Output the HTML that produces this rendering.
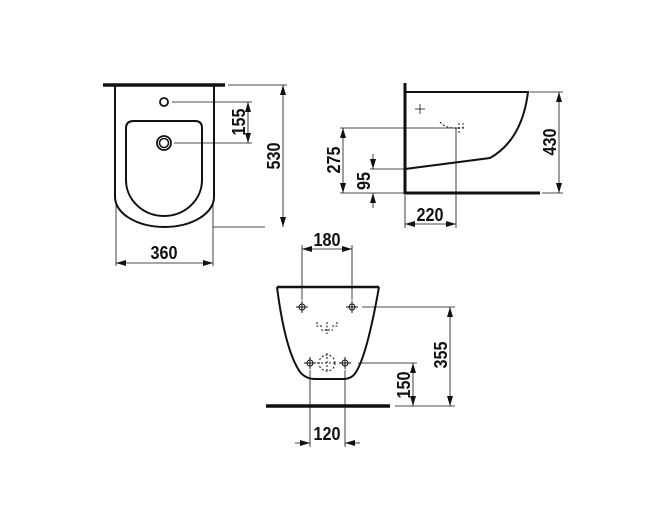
<!DOCTYPE html>
<html><head><style>html,body{margin:0;padding:0;background:#fff}svg{display:block}
text{font-family:"Liberation Sans",sans-serif;font-weight:bold;font-size:18px;fill:#111}</style></head>
<body>
<svg width="662" height="528" viewBox="0 0 662 528" xmlns="http://www.w3.org/2000/svg">
<defs>
<marker id="a" viewBox="0 0 10 6" refX="10" refY="3" markerWidth="10" markerHeight="6" orient="auto-start-reverse" markerUnits="userSpaceOnUse"><path d="M0,0 L10,3 L0,6z" fill="#111"/></marker>
</defs>
<g fill="none" stroke="#111">
<!-- top view -->
<line x1="103" y1="85" x2="225" y2="85" stroke-width="3.5"/>
<path d="M115,86 V197 A49.5,30 0 0 0 214,197 V86" stroke-width="2"/>
<path d="M126,128 Q126,121 134,121 H195 Q202,121 202,128 V180 A38,36 0 0 1 126,180 Z" stroke-width="2"/>
<circle cx="164" cy="102" r="4" stroke-width="1.8"/>
<circle cx="164" cy="143" r="7" stroke-width="1.8"/>
<circle cx="164" cy="143" r="4.5" stroke-width="1.5"/>
<g stroke-width="0.8">
<line x1="172" y1="102" x2="252" y2="102"/><line x1="174" y1="143" x2="252" y2="143"/>
<line x1="248" y1="102" x2="248" y2="143" marker-start="url(#a)" marker-end="url(#a)"/>
<line x1="228" y1="85" x2="287" y2="85"/><line x1="213" y1="227" x2="265" y2="227"/>
<line x1="283" y1="85" x2="283" y2="227" marker-start="url(#a)" marker-end="url(#a)"/>
<line x1="116" y1="200" x2="116" y2="266"/><line x1="213" y1="200" x2="213" y2="266"/>
<line x1="116" y1="263" x2="213" y2="263" marker-start="url(#a)" marker-end="url(#a)"/>
</g>
<!-- side view -->
<line x1="405" y1="83" x2="405" y2="194" stroke-width="3"/>
<line x1="404" y1="193" x2="540" y2="193" stroke-width="3"/>
<path d="M405,92 H528 Q522,140 490,158 L405,169" stroke-width="2"/>
<path d="M415,109 h10 M420,104 v10" stroke-width="0.8"/>
<path d="M440,122 q5,6 15,6 h8 v-5 M459,123 v10 M454,128 h10" stroke-width="1" stroke-dasharray="2,2"/>
<g stroke-width="0.8">
<line x1="530" y1="92" x2="563" y2="92"/><line x1="542" y1="193" x2="563" y2="193"/>
<line x1="559" y1="92" x2="559" y2="193" marker-start="url(#a)" marker-end="url(#a)"/>
<line x1="340" y1="128" x2="460" y2="128"/><line x1="340" y1="193" x2="405" y2="193"/>
<line x1="343" y1="128" x2="343" y2="193" marker-start="url(#a)" marker-end="url(#a)"/>
<line x1="370" y1="169" x2="405" y2="169"/>
<line x1="373" y1="154" x2="373" y2="169" marker-end="url(#a)"/>
<line x1="373" y1="208" x2="373" y2="193" marker-end="url(#a)"/>
<line x1="456" y1="128" x2="456" y2="228"/><line x1="405" y1="195" x2="405" y2="228"/>
<line x1="405" y1="224" x2="456" y2="224" marker-start="url(#a)" marker-end="url(#a)"/>
</g>
<!-- front view -->
<line x1="277" y1="287" x2="379" y2="287" stroke-width="2.5"/>
<path d="M277,287 Q285,350 300,372 Q306,379 315,379 H343 Q352,379 356,372 Q367,355 379,287" stroke-width="2"/>
<g stroke-width="1">
<circle cx="302" cy="307" r="3"/><path d="M296,307h12M302,301v12"/>
<circle cx="352" cy="307" r="3"/><path d="M346,307h12M352,301v12"/>
<circle cx="310" cy="363" r="3"/><path d="M304,363h12M310,357v12"/>
<circle cx="345" cy="363" r="3"/><path d="M339,363h12M345,357v12"/>
<circle cx="327" cy="363" r="8" stroke-dasharray="2,2"/><path d="M317,363h20M327,353v20" stroke-dasharray="2,2"/>
<path d="M317,322v4h6M337,322v4h-6M327,322v12M321,330h12" stroke-dasharray="2,1.5"/>
</g>
<line x1="266" y1="406" x2="390" y2="406" stroke-width="3.5"/>
<g stroke-width="0.8">
<line x1="302" y1="245" x2="302" y2="300"/><line x1="352" y1="245" x2="352" y2="300"/>
<line x1="302" y1="249" x2="352" y2="249" marker-start="url(#a)" marker-end="url(#a)"/>
<line x1="362" y1="307" x2="455" y2="307"/><line x1="395" y1="406" x2="455" y2="406"/>
<line x1="450" y1="307" x2="450" y2="406" marker-start="url(#a)" marker-end="url(#a)"/>
<line x1="358" y1="363" x2="417" y2="363"/>
<line x1="413" y1="363" x2="413" y2="406" marker-start="url(#a)" marker-end="url(#a)"/>
<line x1="310" y1="370" x2="310" y2="447"/><line x1="345" y1="370" x2="345" y2="447"/>
<line x1="295" y1="443" x2="310" y2="443" marker-end="url(#a)"/>
<line x1="360" y1="443" x2="345" y2="443" marker-end="url(#a)"/>
</g>
</g>
<text x="164" y="259" text-anchor="middle" textLength="27" lengthAdjust="spacingAndGlyphs">360</text>
<text transform="translate(245,122) rotate(-90)" text-anchor="middle" textLength="27" lengthAdjust="spacingAndGlyphs">155</text>
<text transform="translate(280,156) rotate(-90)" text-anchor="middle" textLength="27" lengthAdjust="spacingAndGlyphs">530</text>
<text transform="translate(340,160) rotate(-90)" text-anchor="middle" textLength="27" lengthAdjust="spacingAndGlyphs">275</text>
<text transform="translate(370,181) rotate(-90)" text-anchor="middle" textLength="18" lengthAdjust="spacingAndGlyphs">95</text>
<text transform="translate(556,142) rotate(-90)" text-anchor="middle" textLength="27" lengthAdjust="spacingAndGlyphs">430</text>
<text x="430" y="221" text-anchor="middle" textLength="27" lengthAdjust="spacingAndGlyphs">220</text>
<text x="327" y="246" text-anchor="middle" textLength="27" lengthAdjust="spacingAndGlyphs">180</text>
<text transform="translate(447,355) rotate(-90)" text-anchor="middle" textLength="27" lengthAdjust="spacingAndGlyphs">355</text>
<text transform="translate(410,385) rotate(-90)" text-anchor="middle" textLength="27" lengthAdjust="spacingAndGlyphs">150</text>
<text x="327" y="440" text-anchor="middle" textLength="27" lengthAdjust="spacingAndGlyphs">120</text>
</svg>
</body></html>
